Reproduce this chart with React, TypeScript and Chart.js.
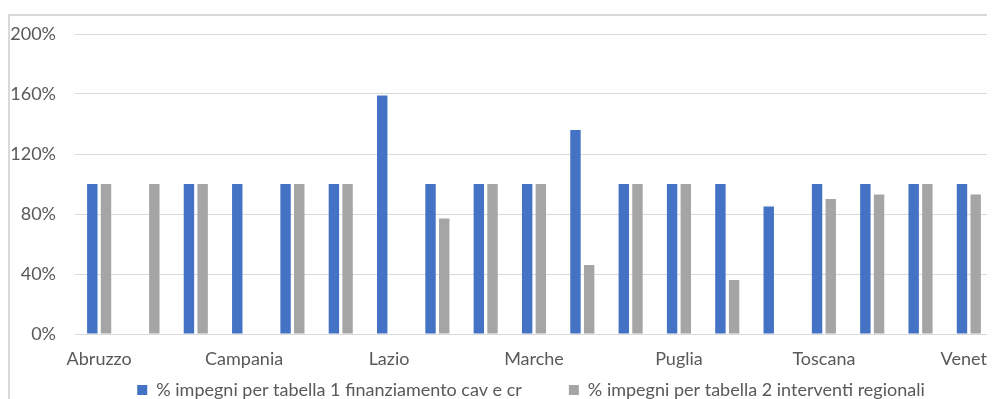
import React, { useEffect, useRef } from 'react';
import { Chart, registerables } from 'chart.js';

Chart.register(...registerables);

// Regioni (asse delle categorie)
const regioni = [
  'Abruzzo', 'Basilicata', 'Calabria', 'Campania', 'Emilia-Romagna',
  'Friuli-Venezia Giulia', 'Lazio', 'Liguria', 'Lombardia', 'Marche',
  'Molise', 'Piemonte', 'Puglia', 'Sardegna', 'Sicilia', 'Toscana',
  'Umbria', "Valle d'Aosta", 'Veneto',
];

// % impegni per tabella 1 finanziamento cav e cr
const impegniTabella1 = [
  100, null, 100, 100, 100, 100, 159, 100, 100, 100,
  136, 100, 100, 100, 85, 100, 100, 100, 100,
];

// % impegni per tabella 2 interventi regionali
const impegniTabella2 = [
  100, 100, 100, null, 100, 100, null, 77, 100, 100,
  46, 100, 100, 36, null, 90, 93, 100, 93,
];

const serieLabels = [
  '% impegni per tabella 1 finanziamento cav e cr',
  '% impegni per tabella 2 interventi regionali',
];

const yMin = 0;
const yMax = 200;
const yStep = 40;

const FONT = 'Lato, "Open Sans", sans-serif';
const TEXT = '#595959';
const GRID = '#d9d9d9';

export default function App() {
  const canvasRef = useRef<HTMLCanvasElement | null>(null);

  useEffect(() => {
    if (!canvasRef.current) return;
    const chart = new Chart(canvasRef.current, {
      type: 'bar',
      data: {
        labels: regioni,
        datasets: [
          {
            label: serieLabels[0],
            data: impegniTabella1,
            backgroundColor: '#4472C4',
            categoryPercentage: 0.567,
            barPercentage: 0.76,
          },
          {
            label: serieLabels[1],
            data: impegniTabella2,
            backgroundColor: '#A5A5A5',
            categoryPercentage: 0.567,
            barPercentage: 0.76,
          },
        ],
      },
      options: {
        animation: false,
        responsive: false,
        maintainAspectRatio: false,
        layout: { padding: { left: 0, top: 18, right: 0, bottom: 0 } },
        plugins: {
          tooltip: { enabled: false },
          legend: {
            position: 'bottom',
            labels: {
              boxWidth: 10,
              boxHeight: 10,
              padding: 47,
              color: TEXT,
              font: { family: FONT, size: 18 },
            },
          },
        },
        scales: {
          x: {
            grid: { display: false, drawTicks: false },
            border: { display: true, color: GRID, width: 1 },
            ticks: {
              autoSkip: false,
              maxRotation: 0,
              minRotation: 0,
              // mirrored labels are not clipped to the (collapsed) axis box
              mirror: true,
              padding: -36,
              color: TEXT,
              font: { family: FONT, size: 18 },
              callback: (_v, i) => (i % 3 === 0 ? regioni[i] : ''),
            },
            afterFit: (scale) => {
              scale.height = 0;
              // keep the plot clear of the right side of the frame
              scale.paddingRight = 59;
            },
          },
          y: {
            min: yMin,
            max: yMax,
            grid: {
              color: GRID,
              lineWidth: 1,
              drawTicks: true,
              tickLength: 19,
              tickColor: 'rgba(0,0,0,0)',
            },
            border: { display: false },
            ticks: {
              stepSize: yStep,
              padding: 0,
              color: TEXT,
              font: { family: FONT, size: 18 },
              callback: (v) => `${v}%`,
            },
            afterFit: (scale) => {
              scale.width = 65;
            },
          },
        },
      },
    });
    return () => chart.destroy();
  }, []);

  return (
    <div style={{ position: 'relative', width: 987, height: 391, overflow: 'hidden' }}>
      <div
        style={{
          position: 'absolute',
          left: 0,
          top: 6,
          width: 1100,
          height: 440,
          border: `2px solid ${GRID}`,
          boxSizing: 'border-box',
          background: '#ffffff',
        }}
      >
        <canvas ref={canvasRef} width={1042} height={393} style={{ display: 'block' }} />
      </div>
    </div>
  );
}
